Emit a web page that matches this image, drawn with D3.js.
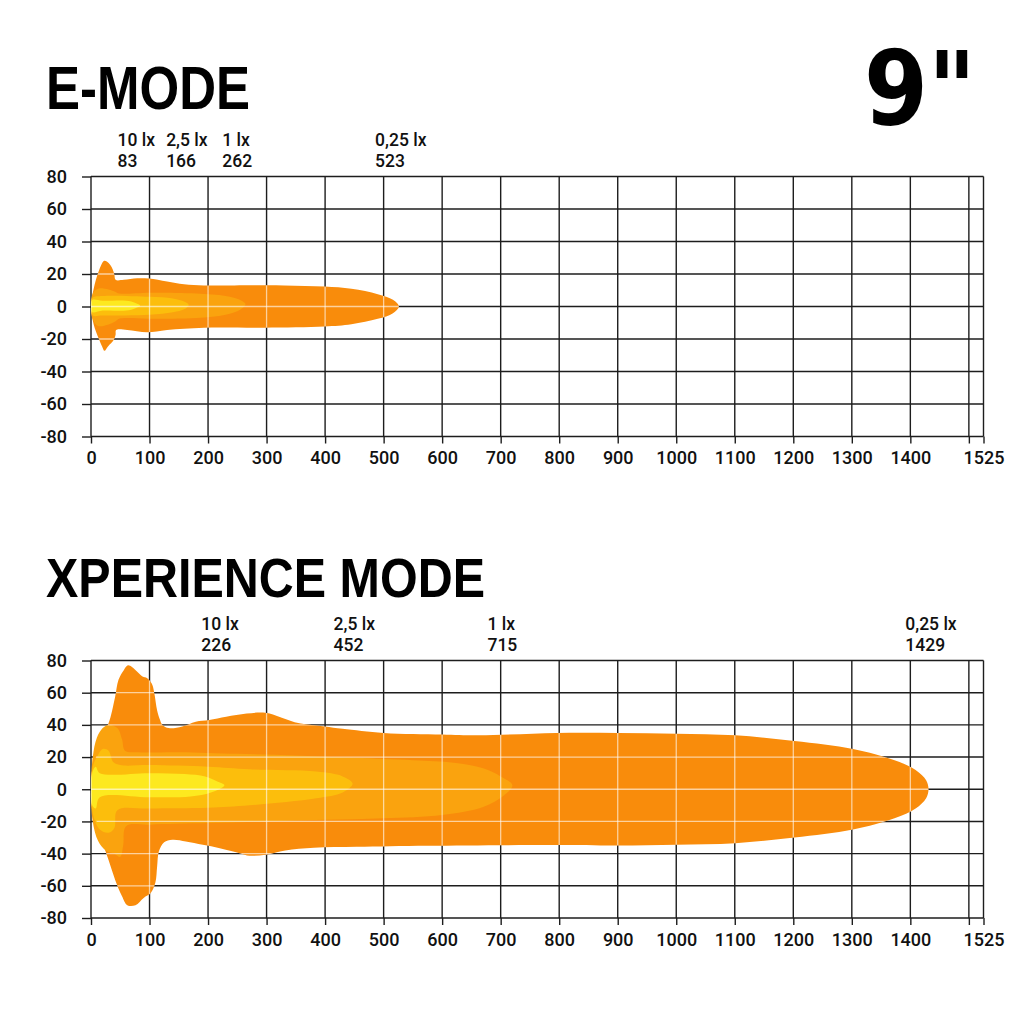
<!DOCTYPE html>
<html>
<head>
<meta charset="utf-8">
<script src="https://cdn.jsdelivr.net/npm/d3@7"></script>
<style>
  html, body { margin: 0; padding: 0; background: #fff; }
</style>
</head>
<body>
<div id="chart"></div>
<script>
// Data
const distTicks = [0, 100, 200, 300, 400, 500, 600, 700, 800, 900, 1000, 1100, 1200, 1300, 1400, 1500, 1525]
const distLabels = ['0', '100', '200', '300', '400', '500', '600', '700', '800', '900', '1000', '1100', '1200', '1300', '1400', '', '1525']
const angleTicks = [80, 60, 40, 20, 0, -20, -40, -60, -80]

const luxLevels = ['10 lx', '2,5 lx', '1 lx', '0,25 lx']
const eModeReach = [83, 166, 262, 523]
const xpModeReach = [226, 452, 715, 1429]

// isolux outlines: [distance m, spread m], going round the upper edge then back along the lower
const eMode10 = [[0, 0], [2, 4], [20, 3.5], [60, 3.5], [76, 2.2], [84, 0.5], [76, -1], [60, -2.5], [20, -2.5], [2, -3.5]]
const eMode25 = [[0, 0], [3, 5.5], [20, 6.5], [100, 6], [140, 5], [160, 3], [167, 1], [160, -1.5], [140, -3.5], [100, -5], [20, -5.5], [3, -5.5]]
const eMode1 = [[0, 0], [3, 8], [12, 11], [30, 10.5], [42, 9], [48, 8], [100, 8.5], [180, 8], [230, 6.5], [255, 4], [264, 1.5],
  [255, -2], [230, -5], [180, -7], [100, -7.5], [48, -7.5], [42, -9], [30, -11], [12, -12], [3, -8]]
const eMode025 = [[0, 0], [4.6, 11], [13, 21.5], [22, 28], [27, 27.7], [33, 25.5], [37, 23], [40, 19.5], [42, 16.4], [56, 16.4],
  [79, 17.4], [99, 17.2], [130, 15.4], [159, 13.7], [193, 13], [245, 13], [330, 13], [399, 12.3], [445, 10.9], [490, 7.6],
  [516, 4.1], [526, 0], [516, -4.1], [490, -7.6], [445, -10.9], [399, -12.3], [296, -13], [193, -13], [130, -14.4],
  [96, -15.8], [62, -14.4], [43, -14.4], [42, -17.4], [39, -20.5], [29, -24.6], [23, -27.3], [19, -24.6], [13, -19.5], [4.6, -11]]

const xpMode10 = [[0, 0], [2, 10], [8, 14], [15, 10], [100, 10], [160, 9.5], [195, 8], [215, 5], [228, 2.5],
  [205, -2], [170, -4.5], [100, -5], [15, -5], [8, -12], [2, -10]]
const xpMode25 = [[0, 0], [3, 14], [10, 20], [20, 25], [30, 24], [38, 17], [50, 15], [100, 15], [200, 14], [271, 12.4],
  [385, 11], [430, 8], [447, 3.5], [430, -2], [385, -5.6], [271, -10], [200, -11.5], [100, -12], [45, -13], [40, -24],
  [30, -27], [15, -25], [3, -15]]
const xpMode1 = [[0, 0], [3, 20], [10, 32], [20, 38], [30, 40], [45, 38], [53, 31], [58, 24], [80, 23], [150, 23],
  [250, 22], [350, 21], [450, 19.5], [550, 18], [620, 16.5], [670, 13], [700, 8], [720, 2.5], [705, -4], [670, -11],
  [600, -16], [500, -18], [400, -19], [300, -20], [200, -21], [100, -22], [60, -23], [55, -35], [50, -42], [40, -40],
  [25, -38], [12, -32], [3, -20]]
const xpMode025 = [[1, 10], [7, 18], [18, 33], [30, 41], [41, 57], [47, 68], [56, 74], [63, 77], [70, 76], [79, 73],
  [88, 70], [96, 69], [104, 65.5], [108, 60], [113, 49], [118, 43], [122, 40], [133, 38], [156, 39], [179, 42],
  [202, 43], [231, 45], [266, 47], [298, 47.5], [326, 44.5], [356, 41], [399, 39], [430, 37.6], [500, 35], [600, 34],
  [663, 33.5], [795, 35], [900, 35], [1000, 34.5], [1101, 33.5], [1202, 30], [1302, 25], [1373, 18], [1409, 12],
  [1427, 5.6], [1431, 0], [1427, -5.6], [1409, -12], [1373, -18], [1302, -25], [1202, -30], [1101, -33.5],
  [1000, -34.5], [900, -35], [795, -34.7], [576, -35.1], [454, -35.8], [381, -36.4], [332, -38], [298, -40.7],
  [271, -41.3], [254, -39.7], [220, -36.6], [191, -34.5], [162, -32.4], [139, -31.4], [125, -33], [116, -38.6],
  [113, -48], [110, -58], [102, -64.5], [90, -67.5], [76, -72], [62, -72], [53, -66.5], [41, -56], [30, -44],
  [18, -31], [7, -17], [1, -10], [0, 0]]

// 0,25 lx -> 10 lx
const zoneColors = ['#f98c0b', '#faa30e', '#fcbe0c', '#fde91f']

const labelFont = 'Roboto, "Liberation Sans", Arial, sans-serif'
const titleFont = '"Liberation Sans", Arial, sans-serif'

const svg = d3.select('#chart')
  .append('svg')
  .attr('width', 1024)
  .attr('height', 1024)

svg.append('rect').attr('width', 1024).attr('height', 1024).attr('fill', '#fff')

svg.append('text')
  .attr('x', 864)
  .attr('y', 125)
  .attr('font-family', '"DejaVu Sans", sans-serif')
  .attr('font-weight', 700)
  .attr('font-size', 103)
  .attr('textLength', 112)
  .attr('lengthAdjust', 'spacingAndGlyphs')
  .text('9"')

function drawChart(cfg, idx) {
  const xScale = d3.scaleLinear().domain([0, 1525]).range([91, 983.5])
  const yScale = d3.scaleLinear().domain([-80, 80]).range([cfg.bottom, cfg.top])

  const g = svg.append('g')

  g.append('text')
    .attr('x', 46)
    .attr('y', cfg.titleY)
    .attr('font-family', titleFont)
    .attr('font-weight', 700)
    .attr('font-size', cfg.titleSize)
    .attr('textLength', cfg.titleLen)
    .attr('lengthAdjust', 'spacingAndGlyphs')
    .text(cfg.title)

  // lux / reach labels above the grid, left aligned a bit before the reach
  const marks = g.append('g')
    .attr('font-family', labelFont)
    .attr('font-weight', 500)
    .attr('font-size', 17.5)
    .attr('fill', '#111')
  marks.selectAll('text.lux')
    .data(cfg.reach)
    .join('text')
    .attr('class', 'lux')
    .attr('x', d => xScale(d) - 22)
    .attr('y', cfg.top - 30.5)
    .text((d, i) => luxLevels[i])
  marks.selectAll('text.reach')
    .data(cfg.reach)
    .join('text')
    .attr('class', 'reach')
    .attr('x', d => xScale(d) - 22)
    .attr('y', cfg.top - 10)
    .text(d => d)

  // black grid
  const grid = g.append('g').attr('stroke', '#1d1d1d').attr('stroke-width', 1.4)
  grid.selectAll('line.v')
    .data(distTicks)
    .join('line')
    .attr('class', 'v')
    .attr('x1', d => xScale(d)).attr('x2', d => xScale(d))
    .attr('y1', yScale(80)).attr('y2', yScale(-80))
  grid.selectAll('line.h')
    .data(angleTicks)
    .join('line')
    .attr('class', 'h')
    .attr('x1', xScale(0)).attr('x2', xScale(1525))
    .attr('y1', d => yScale(d)).attr('y2', d => yScale(d))

  const yAxis = d3.axisLeft(yScale).tickValues(angleTicks)
    .tickFormat(d => String(d)).tickSize(9).tickPadding(15)
  const xAxis = d3.axisBottom(xScale).tickValues(distTicks)
    .tickFormat((d, i) => distLabels[i]).tickSize(7).tickPadding(8)

  const yG = g.append('g')
    .attr('transform', `translate(${xScale(0)}, 0)`)
    .call(yAxis)
  const xG = g.append('g')
    .attr('transform', `translate(0, ${yScale(-80)})`)
    .call(xAxis)
  ;[yG, xG].forEach(ax => {
    ax.select('.domain').remove()
    ax.selectAll('line').attr('stroke', '#1d1d1d').attr('stroke-width', 1.4)
    ax.selectAll('text')
      .attr('font-family', labelFont)
      .attr('font-weight', 500)
      .attr('font-size', 18)
      .attr('fill', '#111')
  })

  // beam
  const lineGenerator = d3.line()
    .x(d => xScale(d[0]))
    .y(d => yScale(d[1]))
    .curve(d3.curveCatmullRomClosed.alpha(0.5))

  const clipId = `beam-clip-${idx}`
  g.append('clipPath').attr('id', clipId)
    .append('path').attr('d', lineGenerator(cfg.zones[0]))

  g.append('g')
    .selectAll('path')
    .data(cfg.zones)
    .join('path')
    .attr('d', d => lineGenerator(d))
    .attr('fill', (d, i) => zoneColors[i])

  // grid shows light over the beam
  const lightGrid = g.append('g')
    .attr('clip-path', `url(#${clipId})`)
    .attr('stroke', '#fff')
    .attr('stroke-opacity', 0.6)
    .attr('stroke-width', 1.3)
  lightGrid.selectAll('line.v')
    .data(distTicks)
    .join('line')
    .attr('class', 'v')
    .attr('x1', d => xScale(d)).attr('x2', d => xScale(d))
    .attr('y1', yScale(80)).attr('y2', yScale(-80))
  lightGrid.selectAll('line.h')
    .data(angleTicks)
    .join('line')
    .attr('class', 'h')
    .attr('x1', xScale(0)).attr('x2', xScale(1525))
    .attr('y1', d => yScale(d)).attr('y2', d => yScale(d))
}

const charts = [
  { title: 'E-MODE', titleY: 108.5, titleSize: 61, titleLen: 204, top: 176.5, bottom: 436.5,
    reach: eModeReach, zones: [eMode025, eMode1, eMode25, eMode10] },
  { title: 'XPERIENCE MODE', titleY: 596.5, titleSize: 56, titleLen: 439, top: 660.5, bottom: 918,
    reach: xpModeReach, zones: [xpMode025, xpMode1, xpMode25, xpMode10] },
]

charts.forEach((c, i) => drawChart(c, i))
</script>
</body>
</html>
